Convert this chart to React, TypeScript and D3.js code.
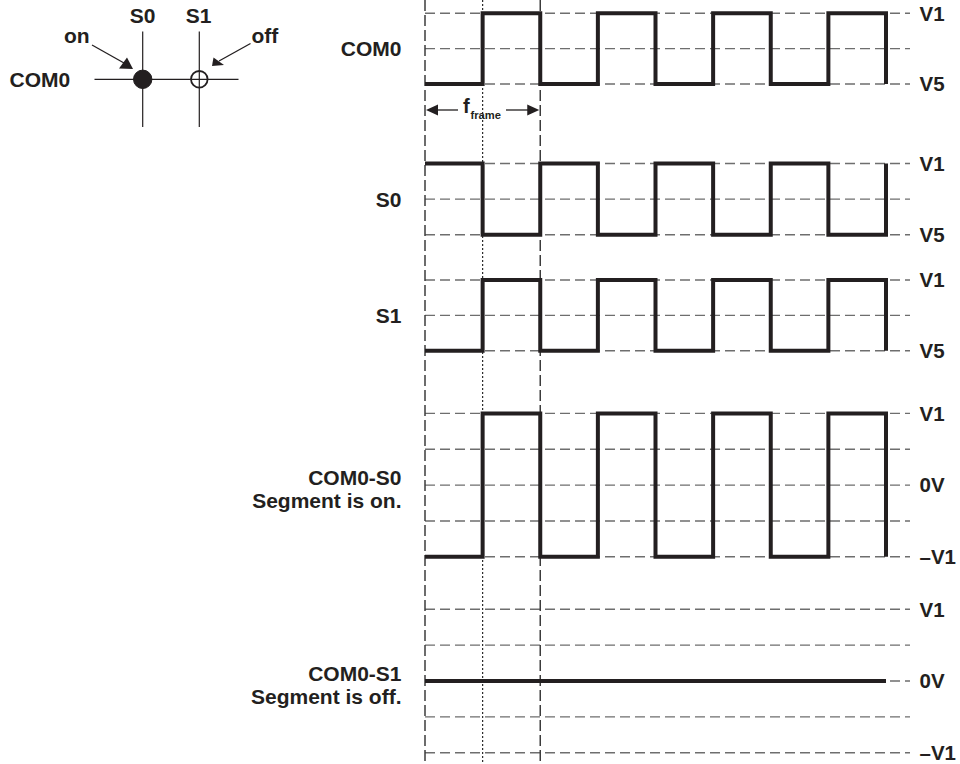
import React from "react";
import * as d3 from "d3";

// ---- data ----
const halfPeriods = [0, 1, 2, 3, 4, 5, 6, 7];
const com0Levels = [0, 1, 0, 1, 0, 1, 0, 1];
const s0Levels = [1, 0, 1, 0, 1, 0, 1, 0];
const s1Levels = [0, 1, 0, 1, 0, 1, 0, 1];
const com0S0Levels = [-1, 1, -1, 1, -1, 1, -1, 1];
const com0S1Levels = [0, 0, 0, 0, 0, 0, 0, 0];

const logicTicks = [1, 0.5, 0];
const logicTickLabels = ["V1", "", "V5"];
const diffTicks = [1, 0.5, 0, -0.5, -1];
const diffTickLabels = ["V1", "", "0V", "", "–V1"];

const panelNames = [["COM0"], ["S0"], ["S1"], ["COM0-S0", "Segment is on."], ["COM0-S1", "Segment is off."]];

const FONT = "'Liberation Sans', Arial, Helvetica, sans-serif";
const INK = "#231f20";

export default function App() {
  const W = 960, H = 764;
  const x = d3.scaleLinear().domain([0, 8]).range([425, 886]);
  const gridEnd = 910;

  const panels = [
    { name: panelNames[0], values: com0Levels, ticks: logicTicks, labels: logicTickLabels, y: d3.scaleLinear().domain([0, 1]).range([84, 13.3]) },
    { name: panelNames[1], values: s0Levels, ticks: logicTicks, labels: logicTickLabels, y: d3.scaleLinear().domain([0, 1]).range([234.7, 163.5]) },
    { name: panelNames[2], values: s1Levels, ticks: logicTicks, labels: logicTickLabels, y: d3.scaleLinear().domain([0, 1]).range([350.7, 280]) },
    { name: panelNames[3], values: com0S0Levels, ticks: diffTicks, labels: diffTickLabels, y: d3.scaleLinear().domain([-1, 1]).range([556.8, 413.4]) },
    { name: panelNames[4], values: com0S1Levels, ticks: diffTicks, labels: diffTickLabels, y: d3.scaleLinear().domain([-1, 1]).range([752.7, 609.3]) },
  ];

  return (
    <svg width={W} height={H} style={{ position: "absolute", left: 0, top: 0, background: "#fff" }} fontFamily={FONT}>
      <rect width={W} height={H} fill="#fff" />
      {/* horizontal grid lines */}
      {panels.map((p, pi) =>
        p.ticks.map((t, ti) => (
          <line key={`g${pi}-${ti}`} x1={x(0)} x2={gridEnd} y1={p.y(t)} y2={p.y(t)} stroke="#6e6e6e" strokeWidth={1.4} strokeDasharray="10,5" />
        ))
      )}
      {/* vertical guides */}
      <line x1={x(0)} x2={x(0)} y1={0} y2={H} stroke="#3c3c3c" strokeWidth={1.5} strokeDasharray="11,4" />
      <line x1={x(2)} x2={x(2)} y1={0} y2={H} stroke="#3c3c3c" strokeWidth={1.5} strokeDasharray="11,4" />
      <line x1={x(1)} x2={x(1)} y1={0} y2={H} stroke="#2a2a2a" strokeWidth={1.2} strokeDasharray="2,2" />

      {/* waveforms */}
      {panels.map((p, pi) => {
        const pts: [number, number][] = halfPeriods.map((h, i) => [h, p.values[i]]);
        pts.push([halfPeriods.length, p.values[0]]);
        const gen = d3.line<[number, number]>().x((d) => x(d[0])).y((d) => p.y(d[1])).curve(d3.curveStepAfter);
        return <path key={`w${pi}`} d={gen(pts) || ""} fill="none" stroke={INK} strokeWidth={4} strokeLinejoin="miter" />;
      })}

      {/* right labels */}
      {panels.map((p, pi) =>
        p.ticks.map((t, ti) =>
          p.labels[ti] ? (
            <text key={`l${pi}-${ti}`} x={919.5} y={p.y(t) + 7.3} fontSize={20.5} fontWeight="bold" fill={INK}>
              {p.labels[ti]}
            </text>
          ) : null
        )
      )}

      {/* left labels */}
      {panels.map((p, pi) => {
        const mid = p.ticks.length === 3 ? p.y(0.5) + 7.5 : p.y(0);
        return (
          <text key={`n${pi}`} x={401.5} y={mid} fontSize={21} fontWeight="bold" fill={INK} textAnchor="end">
            {p.name.map((s, si) => (
              <tspan key={si} x={401.5} dy={si === 0 ? 0 : 23}>{s}</tspan>
            ))}
          </text>
        );
      })}

      {/* f_frame annotation */}
      <g>
        <line x1={x(0) + 10} x2={458} y1={110} y2={110} stroke={INK} strokeWidth={1.3} />
        <line x1={506} x2={x(2) - 10} y1={110} y2={110} stroke={INK} strokeWidth={1.3} />
        <path d={`M${x(0) + 1},110 L${x(0) + 13},104.5 L${x(0) + 13},115.5 Z`} fill={INK} />
        <path d={`M${x(2) - 1},110 L${x(2) - 13},104.5 L${x(2) - 13},115.5 Z`} fill={INK} />
        <text x={463} y={113} fontSize={20} fontWeight="bold" fill={INK}>f</text>
        <text x={470.5} y={118.5} fontSize={11.2} fontWeight="bold" fill={INK}>frame</text>
      </g>

      {/* matrix symbol */}
      <g stroke={INK}>
        <line x1={94.5} x2={238.5} y1={79.3} y2={79.3} strokeWidth={1.2} />
        <line x1={142.7} x2={142.7} y1={31.5} y2={127} strokeWidth={1.2} />
        <line x1={199.3} x2={199.3} y1={31.5} y2={127} strokeWidth={1.2} />
        <circle cx={142.7} cy={79.3} r={9.2} fill={INK} />
        <circle cx={199.3} cy={79.3} r={8.3} fill="none" strokeWidth={1.8} />
        <line x1={92} x2={124} y1={45} y2={63} strokeWidth={1.3} />
        <line x1={250.5} x2={219} y1={43.5} y2={61} strokeWidth={1.3} />
      </g>
      <path d="M133,69 L119,68.5 L127,57.5 Z" fill={INK} />
      <path d="M212,66 L213.5,57.5 L224,65 Z" fill={INK} />
      <g fontSize={21} fontWeight="bold" fill={INK}>
        <text x={142.7} y={23} textAnchor="middle">S0</text>
        <text x={198.5} y={23} textAnchor="middle">S1</text>
        <text x={64} y={43}>on</text>
        <text x={251.5} y={43}>off</text>
        <text x={9.5} y={87}>COM0</text>
      </g>
    </svg>
  );
}
